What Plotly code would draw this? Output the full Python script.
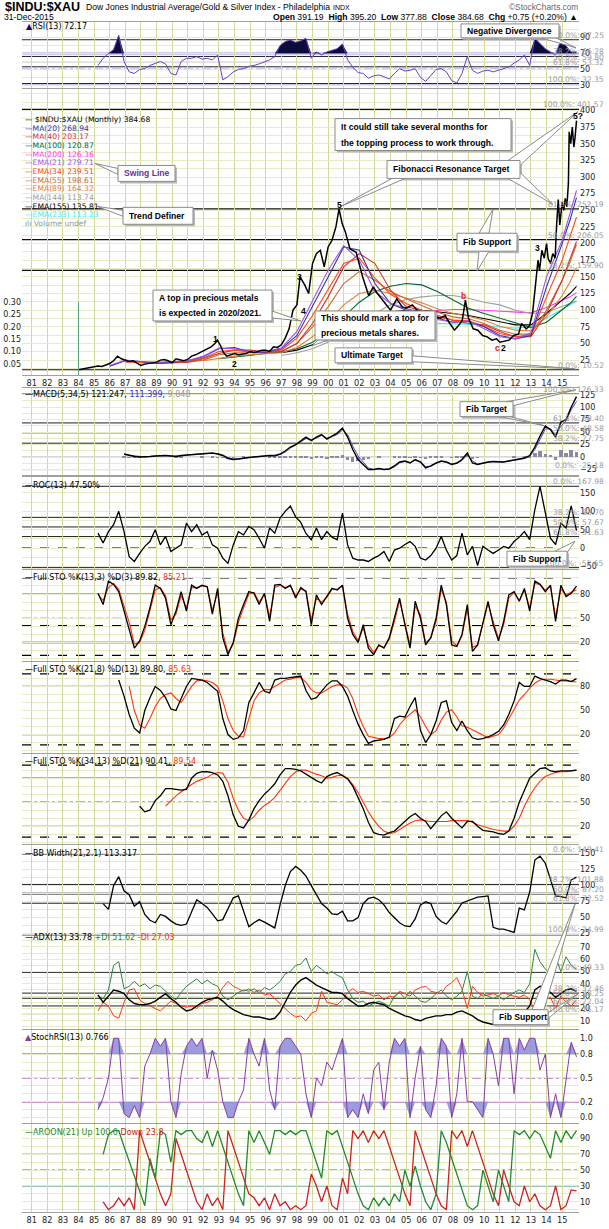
import plotly.graph_objects as go

W, H = 609, 1229
ML, MR = 22, 30
PW = W - ML - MR
X_RANGE = [1980.38, 2016.08]

tick_years = list(range(1981, 2016))
tick_text = ["%02d" % (y % 100) for y in tick_years]

# ---------------- main price (Dow / XAU ratio) ----------------
price_t = [1984.0, 1984.25, 1984.5, 1984.75, 1985.0, 1985.25, 1985.5, 1985.75, 1986.0, 1986.25, 1986.5, 1986.75,
           1987.0, 1987.25, 1987.5, 1987.75, 1988.0, 1988.25, 1988.5, 1988.75, 1989.0, 1989.25, 1989.5, 1989.75,
           1990.0, 1990.25, 1990.5, 1990.75, 1991.0, 1991.25, 1991.5, 1991.75, 1992.0, 1992.25, 1992.5, 1992.75,
           1992.9, 1993.1, 1993.3, 1993.5, 1993.75, 1994.0, 1994.25, 1994.5, 1994.75, 1995.0, 1995.25, 1995.5,
           1995.75, 1996.0, 1996.25, 1996.5, 1996.75, 1997.0, 1997.25, 1997.5, 1997.75, 1998.0, 1998.2, 1998.5,
           1998.75, 1999.0, 1999.25, 1999.5, 1999.75, 2000.0, 2000.25, 2000.5, 2000.7, 2000.9, 2001.1, 2001.4,
           2001.8, 2002.2, 2002.6, 2002.9, 2003.1, 2003.4, 2003.75, 2004.0, 2004.4, 2004.75, 2005.0, 2005.4,
           2005.7, 2006.0, 2006.3, 2006.6, 2006.9, 2007.2, 2007.5, 2007.8, 2008.1, 2008.4, 2008.6, 2008.8,
           2009.0, 2009.3, 2009.6, 2009.9, 2010.2, 2010.5, 2010.8, 2011.0, 2011.3, 2011.6, 2011.9, 2012.2,
           2012.4, 2012.7, 2012.9, 2013.1, 2013.3, 2013.45, 2013.55, 2013.7, 2013.85, 2014.0, 2014.1, 2014.25,
           2014.4, 2014.55, 2014.65, 2014.75, 2014.85, 2015.0, 2015.1, 2015.2, 2015.3, 2015.4, 2015.45, 2015.55,
           2015.65, 2015.75, 2015.83, 2015.92]
price_v = [10.5, 11.5, 12.5, 13, 14, 16, 15.5, 18, 20, 24, 31, 27,
           25, 23, 24, 20, 17, 19, 20, 21, 22, 25, 26, 24,
           21, 27, 25, 24, 26, 31, 33, 36, 38, 42, 45, 50,
           55, 47, 36, 31, 33, 35, 33, 34, 35, 38, 36, 38,
           40, 40, 38, 45, 44, 48, 58, 72, 100, 108, 150, 138,
           125, 170, 185, 190, 165, 195, 205, 225, 252, 230, 218, 192,
           187, 151, 122, 135, 127, 118, 108, 100, 117, 105, 103, 108,
           100, 85, 75, 82, 90, 88, 92, 80, 70, 78, 85, 115,
           88, 72, 70, 62, 60, 55, 57, 52, 54, 55, 62, 64,
           80, 72, 76, 95, 140, 175, 160, 190, 178, 200, 178, 170,
           185, 178, 230, 266, 228, 262, 250, 268, 255, 290, 368, 350,
           375, 345, 360, 384.68]

vol_t = [1984.0]
vol_v = [0.30]

# ---------------- moving averages (yearly reads) ----------------
ma_t = [1985, 1986, 1987, 1988, 1989, 1990, 1991, 1992, 1993, 1994, 1995, 1996, 1997, 1998, 1999, 2000,
        2001, 2002, 2003, 2004, 2005, 2006, 2007, 2008, 2009, 2010, 2011, 2012, 2013, 2014, 2015, 2015.5, 2015.92]
ma20 = [None, 16, 24, 23, 20, 22, 24, 30, 42, 44, 37, 37, 42, 62, 105, 150,
        195, 190, 140, 110, 100, 97, 88, 82, 83, 75, 62, 57, 62, 135, 200, 235, 268.94]
ema21 = [None, 17, 25, 23, 21, 23, 24, 31, 43, 42, 37, 38, 43, 68, 115, 160,
         197, 175, 128, 110, 103, 95, 86, 82, 84, 72, 60, 57, 66, 150, 205, 245, 279.71]
ema34 = [None, None, 22, 22, 21, 22, 23, 28, 38, 40, 37, 37, 40, 58, 92, 130,
         170, 178, 148, 124, 110, 100, 90, 85, 84, 76, 65, 60, 63, 120, 175, 210, 239.51]
ma40 = [None, None, None, 21, 20, 21, 22, 27, 35, 40, 40, 37, 38, 50, 80, 120,
        165, 185, 170, 130, 105, 100, 93, 85, 80, 78, 68, 60, 60, 95, 145, 175, 203.17]
ema55 = [None, None, None, None, 20, 21, 22, 25, 33, 36, 36, 36, 38, 50, 75, 105,
         140, 158, 145, 128, 117, 107, 97, 90, 87, 80, 70, 64, 64, 100, 145, 172, 198.61]
ema89 = [None, None, None, None, None, None, None, 24, 28, 31, 33, 34, 36, 44, 60, 82,
         108, 125, 130, 125, 118, 111, 102, 95, 91, 85, 76, 70, 69, 90, 122, 142, 164.32]
ma100 = [None, None, None, None, None, None, None, None, 27, 30, 33, 35, 37, 42, 52, 68,
         90, 112, 128, 136, 140, 138, 128, 115, 103, 95, 88, 80, 74, 82, 100, 110, 120.87]
ma144 = [None] * 12 + [32, 36, 42, 52, 65, 80, 95, 108, 116, 120, 122, 122, 118, 112, 108, 100, 95, 97, 105, 110, 113.74]
ema155 = [None] * 12 + [36, 40, 48, 60, 75, 88, 95, 98, 100, 100, 98, 95, 92, 87, 82, 78, 78, 95, 115, 125, 135.81]
ma200 = [None] * 16 + [60, 70, 80, 88, 94, 98, 100, 101, 101, 100, 99, 97, 96, 104, 115, 120, 126.36]
ema233 = [None] * 19 + [74, 77, 79, 80, 80, 79, 77, 75, 73, 75, 88, 102, 108, 113.23]

# ---------------- indicators: 3 reads per year (Apr, Aug, Dec) 1985-2015 ----------------
g3_t = [y + f for y in range(1985, 2016) for f in (0.25, 0.58, 0.92)]

rsi = [55, 64, 70, 75, 93, 60, 47, 45, 50, 51, 55, 58, 60, 57, 45, 43, 60, 64, 64, 66, 63, 64, 62, 68,
       37, 41, 47, 50, 51, 54, 55, 57, 60, 62, 66, 80, 85, 87, 84, 86, 89, 64, 72, 68, 72, 74, 76, 82,
       62, 53, 46, 45, 39, 42, 43, 41, 38, 45, 51, 48, 49, 51, 40, 35, 43, 50, 51, 47, 36, 33, 45, 66,
       49, 45, 48, 49, 47, 49, 51, 53, 58, 62, 68, 55, 89, 82, 76, 72, 68, 87, 80, 72, 72.17]

macd = [None, None, None, None, None, 6, 3, 1, 0, 0, 1, 2, 3, 3, 2, 1, 3, 4, 5, 6, 7, 7, 8, 6,
        3, -3, -5, -4, -2, -1, 0, 1, 2, 3, 2, 6, 12, 20, 25, 32, 40, 33, 40, 45, 36, 42, 48, 58,
        40, 15, -5, -15, -25, -25, -23, -25, -24, -18, -10, -8, -12, -5, -10, -22, -18, -12, -8, -10, -15, -12, -5, 8,
        -12, -15, -12, -10, -9, -10, -10, -8, -6, -5, -2, 3, 20, 42, 62, 55, 40, 70, 75, 100, 121.25]
macd_sig = [None, None, None, None, None, 5, 4, 2, 1, 0, 1, 2, 3, 3, 2, 2, 2, 4, 5, 6, 6, 7, 7, 7,
            4, -1, -4, -4, -3, -1, 0, 1, 2, 2, 3, 5, 10, 18, 24, 30, 37, 35, 38, 43, 38, 41, 45, 54,
            45, 22, 2, -10, -22, -25, -24, -25, -24, -20, -12, -9, -11, -7, -9, -19, -19, -13, -9, -10, -14, -13, -7, 4,
            -8, -14, -12, -10, -9, -10, -10, -8, -7, -5, -3, 1, 15, 36, 56, 57, 45, 62, 72, 95, 111.4]
macd_hist = [None, None, None, None, None, 1, -1, -1, -1, 0, 0, 0, 0, 0, 0, -1, 1, 0, 0, 0, 1, 0, 1, -1,
             -1, -2, -1, 0, 1, 0, 0, 0, 0, 1, -1, 1, 2, 2, 1, 2, 3, -2, 2, 2, -2, 1, 3, 4,
             -6, -9, -8, -5, -3, 0, 1, 0, 0, 2, 2, 1, -1, 2, -1, -3, 1, 1, 1, 0, -1, 1, 2, 5,
             -4, -1, 0, 0, 0, 0, 0, 0, 1, 0, 1, 3, 9, 13, 7, 5, -6, 15, 9, 14, 9.85]

roc = [41, 14, 45, 64, 100, 45, -23, -36, -14, 5, 18, 50, 9, 32, -9, 0, 9, 68, 45, 64, 36, 45, 9, 0,
       -27, -41, 9, 45, 36, 59, 50, 27, 0, 55, 41, 82, 100, 114, 85, 70, 40, 23, 55, 23, 45, 30, 23, 95,
       9, -27, -32, -32, -36, -27, -20, -9, -36, -5, 0, 10, 18, 5, -27, -32, -20, 0, 32, -5, -32, -20, 41, -18,
       5, -47, 5, -5, -14, -5, 5, 0, 18, 30, 45, 23, 105, 168, 100, 27, 10, 68, 55, 115, 47.5]

sto1_k = [81, 67, 96, 92, 83, 59, 38, 13, 22, 40, 63, 91, 87, 75, 42, 59, 83, 59, 91, 87, 91, 89, 55, 87,
          26, 5, 20, 50, 67, 83, 81, 67, 81, 46, 91, 92, 87, 91, 75, 88, 83, 42, 79, 67, 77, 87, 85, 91,
          50, 30, 20, 42, 13, 5, 17, 13, 26, 50, 75, 42, 13, 71, 50, 17, 26, 50, 91, 67, 17, 15, 30, 67,
          9, 17, 46, 71, 42, 22, 46, 79, 83, 71, 87, 59, 96, 92, 83, 91, 46, 91, 77, 81, 89.82]
sto1_d = [80, 72, 88, 93, 86, 65, 45, 18, 20, 35, 58, 85, 88, 78, 48, 55, 78, 63, 88, 88, 90, 89, 60, 82,
          32, 8, 18, 45, 63, 80, 82, 70, 80, 52, 88, 91, 88, 90, 78, 86, 84, 48, 75, 70, 76, 86, 86, 90,
          55, 34, 22, 38, 17, 8, 16, 14, 24, 46, 72, 46, 17, 65, 54, 20, 25, 46, 86, 70, 22, 16, 28, 62,
          14, 17, 42, 68, 46, 25, 42, 75, 82, 72, 85, 63, 93, 92, 85, 90, 52, 86, 79, 82, 85.21]

sto2_k = [None, None, None, None, 88, 68, 45, 28, 22, 50, 66, 80, 75, 66, 52, 50, 65, 80, 90, 89, 88, 85, 80, 74,
          40, 20, 14, 16, 25, 60, 72, 85, 74, 72, 88, 90, 90, 91, 92, 93, 75, 64, 66, 74, 82, 87, 87, 80,
          68, 50, 33, 20, 9, 12, 13, 14, 17, 40, 43, 42, 55, 66, 25, 10, 20, 37, 60, 62, 35, 25, 37, 25,
          16, 14, 15, 17, 20, 24, 32, 45, 62, 85, 80, 80, 93, 90, 88, 86, 83, 88, 88, 86, 89.80]
sto2_d = [None, None, None, None, None, None, 80, 50, 32, 28, 40, 55, 65, 70, 72, 65, 60, 70, 80, 87, 88, 87, 85, 80,
          62, 40, 25, 18, 17, 40, 62, 72, 76, 76, 80, 85, 88, 89, 91, 91, 85, 76, 72, 72, 76, 80, 82, 82,
          78, 65, 45, 30, 18, 16, 15, 15, 16, 22, 32, 40, 46, 51, 42, 30, 20, 25, 38, 48, 51, 42, 31, 29,
          26, 23, 19, 16, 18, 20, 28, 40, 52, 63, 70, 78, 84, 88, 89, 89, 88, 87, 87, 86, 85.63]

sto3_k = [None, None, None, None, None, None, None, None, 45, 38, 40, 52, 58, 67, 67, 66, 65, 66, 80, 86, 88, 88, 87, 84,
          76, 58, 34, 20, 18, 28, 42, 52, 60, 66, 73, 84, 92, 92, 91, 89, 85, 81, 77, 74, 82, 85, 87, 83,
          79, 70, 55, 42, 25, 12, 10, 9, 12, 14, 20, 26, 32, 36, 30, 26, 17, 25, 33, 38, 30, 24, 18, 26,
          26, 20, 15, 14, 13, 11, 10, 14, 30, 50, 66, 80, 86, 92, 93, 89, 88, 89, 89, 89, 90.41]
sto3_d = [None] * 13 + [45, 52, 58, 63, 68, 72, 76, 79, 81, 85, 87,
          86, 75, 55, 40, 30, 27, 32, 40, 46, 50, 56, 65, 74, 82, 88, 90, 90, 87, 85, 83, 80, 81, 83, 84,
          80, 72, 62, 50, 38, 28, 20, 14, 11, 12, 16, 20, 24, 27, 28, 27, 26, 26, 26, 26, 27, 27, 27, 27,
          25, 22, 20, 18, 16, 15, 14, 14, 20, 30, 45, 58, 68, 76, 82, 85, 87, 88, 88, 89, 89.54]

bbw = [None, 72, 63, 100, 114, 92, 86, 68, 75, 55, 46, 42, 55, 52, 45, 40, 38, 40, 58, 78, 72, 66, 56, 45,
       47, 65, 81, 84, 60, 36, 42, 47, 43, 38, 34, 70, 100, 122, 130, 124, 115, 100, 85, 72, 65, 56, 55, 60,
       45, 45, 50, 72, 80, 82, 78, 70, 58, 50, 42, 37, 36, 48, 70, 75, 72, 52, 44, 40, 50, 60, 73, 76,
       78, 82, 83, 84, 35, 32, 32, 29, 27, 65, 62, 90, 140, 146, 135, 110, 84, 83, 81, 109, 113.32]

adx = [31, 25, 30, 35, 34, 32, 27, 24, 23, 23, 24, 26, 29, 32, 28, 25, 21, 18, 19, 22, 25, 27, 28, 29,
       26, 22, 19, 17, 15, 14, 13, 13, 12, 11, 12, 17, 25, 33, 39, 43, 45, 42, 39, 37, 35, 33, 33, 32,
       28, 25, 22, 22, 24, 25, 24, 23, 20, 18, 16, 14, 13, 11, 10, 12, 13, 14, 14, 15, 15, 17, 18, 16,
       14, 11, 9, 8, 7, 7, 7, 7, 8, 13, 17, 22, 35, 38, 37, 33, 29, 32, 35, 36, 33.78]
plus_di = [30, 28, 35, 55, 58, 36, 38, 42, 38, 40, 36, 39, 38, 34, 30, 27, 33, 38, 41, 44, 40, 43, 40, 38,
           30, 27, 30, 33, 35, 34, 36, 33, 37, 35, 38, 42, 48, 50, 55, 56, 61, 50, 55, 52, 48, 50, 47, 45,
           35, 28, 25, 26, 22, 24, 26, 24, 22, 30, 33, 28, 34, 30, 26, 25, 28, 32, 35, 30, 27, 30, 34, 50,
           30, 28, 32, 30, 28, 30, 27, 30, 33, 35, 33, 40, 68, 58, 52, 48, 62, 50, 62, 55, 51.62]
minus_di = [18, 25, 22, 14, 12, 25, 35, 36, 27, 24, 22, 20, 18, 22, 26, 24, 22, 21, 22, 20, 24, 25, 27, 30,
            37, 42, 38, 36, 34, 36, 33, 35, 31, 32, 28, 24, 20, 16, 13, 14, 10, 16, 18, 34, 25, 24, 23, 27,
            33, 36, 33, 34, 32, 30, 31, 27, 30, 29, 34, 32, 30, 35, 37, 38, 34, 33, 32, 38, 41, 45, 36, 20,
            38, 33, 30, 31, 32, 30, 33, 31, 30, 29, 31, 27, 18, 24, 27, 29, 20, 30, 25, 22, 27.03]

stoch_rsi = [0.10, 0.25, 0.5, 1.0, 1.0, 0.05, 0.0, 0.15, 0.0, 0.65, 0.8, 1.0, 0.9, 1.0, 0.2, 0.0, 0.55, 0.9,
             1.0, 0.9, 1.0, 0.5, 0.85, 0.6, 0.2, 0.0, 0.0, 0.2, 0.35, 1.0, 0.8, 0.65, 1.0, 0.35, 0.1, 0.9,
             1.0, 1.0, 0.9, 0.8, 0.3, 0.0, 0.5, 0.4, 0.7, 0.6, 0.8, 1.0, 0.0, 0.1, 0.0, 0.3, 0.05, 0.6,
             0.7, 0.1, 0.7, 1.0, 0.9, 1.0, 0.0, 0.5, 0.9, 0.1, 0.0, 0.4, 1.0, 0.9, 0.0, 0.3, 1.0, 0.2,
             0.2, 0.1, 0.0, 1.0, 0.8, 0.4, 1.0, 1.0, 0.3, 1.0, 0.85, 1.0, 1.0, 0.6, 0.8, 0.0, 0.3, 0.0,
             0.5, 0.95, 0.766]

aroon_up = [None, 70, 95, 100, 100, 80, 62, 43, 24, 5, 65, 40, 100, 95, 60, 100, 95, 100, 100, 90, 85, 100, 80, 100,
            80, 60, 40, 20, 5, 100, 85, 100, 85, 70, 100, 100, 95, 100, 95, 100, 100, 80, 60, 40, 100, 95, 100, 80,
            60, 40, 20, 5, 0, 15, 5, 15, 5, 20, 10, 50, 30, 55, 30, 10, 0, 20, 100, 85, 65, 45, 25, 5,
            0, 5, 50, 30, 10, 50, 30, 10, 100, 95, 100, 90, 100, 95, 80, 65, 100, 85, 100, 90, 100.0]
aroon_dn = [None, 10, 0, 5, 15, 5, 15, 0, 100, 80, 60, 40, 20, 5, 20, 90, 70, 50, 30, 10, 0, 20, 5, 15,
            0, 100, 80, 60, 40, 20, 15, 5, 15, 0, 20, 5, 10, 0, 5, 0, 5, 45, 30, 10, 30, 5, 0, 40,
            20, 100, 90, 100, 85, 100, 90, 100, 80, 60, 40, 20, 5, 100, 80, 60, 40, 20, 5, 0, 100, 90, 100, 80,
            100, 80, 60, 40, 20, 5, 50, 30, 10, 5, 30, 10, 20, 5, 0, 5, 30, 0, 5, 25, 23.8]

# ---------------- reference levels ----------------
rsi_fib = [87.25, 66.28, 59.80, 53.32, 32.35]
rsi_fib_txt = ["0.0%: 87.25", "38.2%: 66.28", "50.0%: 59.80", "61.8%: 53.32", "100.0%: 32.35"]
price_fib = [401.57, 252.19, 206.05, 159.90, 10.52]
price_fib_txt = ["100.0%: 401.57", "61.8%: 252.19", "50.0%: 206.05", "38.2%: 159.90", "0.0%: 10.52"]
macd_fib = [126.33, 68.40, 48.58, 27.75, -25.18]
macd_fib_txt = ["100.0%: 126.33", "61.8%: 68.40", "50.0%: 48.58", "38.2%: 27.75", "0.0%: -25.18"]
roc_fib = [167.98, 83.70, 57.67, 31.63, -52.65]
roc_fib_txt = ["0.0%: 167.98", "38.2%: 83.70", "50.0%: 57.67", "61.8%: 31.63", "100.0%: -52.65"]
bb_fib = [149.41, 101.88, 87.20, 72.52, 24.99]
bb_fib_txt = ["0.0%: 149.41", "38.2%: 101.88", "50.0%: 87.20", "61.8%: 72.52", "100.0%: 24.99"]
adx_fib = [49.33, 32.46, 28.25, 22.04, 15.17]
adx_fib_txt = ["0.0%: 49.33", "38.2%: 32.46", "50.0%: 28.25", "61.8%: 22.04", "100.0%: 15.17"]

# ---------------- layout helpers ----------------
def PX(x):
    return (x - ML) / PW


def PY(y):
    return 1 - y / H


# panel: (top px, bottom px, value range, right tick values, tick texts, minor grid step)
panels = {
    1: (22, 88, [27.1, 109.6], [30, 50, 70, 90], None, 10),
    2: (89, 376, [3, 432.6], list(range(25, 401, 25)), None, 12.5),
    3: (389, 477, [-37, 139], [-25, 0, 25, 50, 75, 100, 125], None, 12.5),
    4: (479, 571, [-56.8, 192], [-50, 0, 50, 100, 150], None, 25),
    5: (572, 663, [-2.7, 109.6], [20, 50, 80], None, 10),
    6: (664, 755, [-2.4, 110.7], [20, 50, 80], None, 10),
    7: (756, 847, [-2.4, 110.7], [20, 50, 80], None, 10),
    8: (848, 938, [23.0, 163.1], [25, 50, 75, 100, 125, 150], None, 12.5),
    9: (939, 1032, [3.6, 78.9], [10, 20, 30, 40, 50, 60, 70], None, 5),
    10: (1033, 1127, [-0.072, 1.109], [0, 0.2, 0.5, 0.8, 1.0], ["0.0", "0.2", "0.5", "0.8", "1.0"], 0.1),
    11: (1128, 1216, [-3, 108], [10, 30, 50, 70, 90], None, 10),
}

VGRID = '#d4da9c'
HGRID = '#e8ecc6'
FONT = 'DejaVu Sans'

fig = go.Figure()
layout = dict(width=W, height=H, margin=dict(l=ML, r=MR, t=0, b=0), paper_bgcolor='white',
              plot_bgcolor='white', showlegend=False, bargap=0)

for i, (top, bot, rng, tv, tt, mstep) in panels.items():
    sfx = '' if i == 1 else str(i)
    layout['xaxis' + sfx] = dict(domain=[0, 1], range=X_RANGE, anchor='y' + sfx, tickvals=tick_years,
                                 ticktext=tick_text, showticklabels=(i in (2, 11)), showgrid=True,
                                 gridcolor=VGRID, gridwidth=1, zeroline=False, showline=True, mirror=True,
                                 linecolor='#a0a0a0', linewidth=1, ticks='',
                                 tickfont=dict(family=FONT, size=8.2, color='#222'))
    layout['yaxis' + sfx] = dict(domain=[PY(bot), PY(top)], range=rng, anchor='x' + sfx, side='right',
                                 tickvals=tv, ticktext=tt, showgrid=True, gridcolor=HGRID, zeroline=False,
                                 showline=False, ticks='', tickfont=dict(family=FONT, size=8, color='#222'),
                                 minor=dict(tickmode='linear', tick0=0, dtick=mstep, showgrid=True,
                                            gridcolor=HGRID, ticks=''))
# volume axis (left side of price panel)
layout['yaxis12'] = dict(overlaying='y2', anchor='x2', side='left', range=[0.0056, 1.163],
                         tickvals=[0.05, 0.10, 0.15, 0.20, 0.25, 0.30],
                         ticktext=['0.05', '0.10', '0.15', '0.20', '0.25', '0.30'], showgrid=False,
                         zeroline=False, ticks='', tickfont=dict(family=FONT, size=8, color='#222'))


def line(xs, ys, n, color, width=1.0, dash='solid', yax=None):
    sfx = '' if n == 1 else str(n)
    fig.add_trace(go.Scatter(x=xs, y=ys, mode='lines', line=dict(color=color, width=width, dash=dash),
                             xaxis='x' + sfx, yaxis=yax if yax else 'y' + sfx, connectgaps=False,
                             hoverinfo='skip'))


def band_fill(xs, ys, n, level, color, above=True):
    sfx = '' if n == 1 else str(n)
    base = [level if v is not None else None for v in ys]
    if above:
        clip = [max(v, level) if v is not None else None for v in ys]
    else:
        clip = [min(v, level) if v is not None else None for v in ys]
    fig.add_trace(go.Scatter(x=xs, y=base, mode='lines', line=dict(width=0), xaxis='x' + sfx,
                             yaxis='y' + sfx, hoverinfo='skip'))
    fig.add_trace(go.Scatter(x=xs, y=clip, mode='lines', line=dict(width=0), fill='tonexty',
                             fillcolor=color, xaxis='x' + sfx, yaxis='y' + sfx, hoverinfo='skip'))


shapes = []
annotations = []


def hline(n, val, color='#000', width=1.0, dash='solid'):
    sfx = '' if n == 1 else str(n)
    shapes.append(dict(type='line', xref='x' + sfx + ' domain', x0=0, x1=1, yref='y' + sfx, y0=val, y1=val,
                       line=dict(color=color, width=width, dash=dash), layer='below'))


def fib_labels(n, vals, txts):
    sfx = '' if n == 1 else str(n)
    for v, t in zip(vals, txts):
        annotations.append(dict(xref='paper', x=PX(606), yref='y' + sfx, y=v, text=t, showarrow=False,
                                xanchor='right', yanchor='bottom', yshift=-2,
                                font=dict(family=FONT, size=7.6, color='#9a9a9a')))


def txt(px, py, s, size=8, color='#000', family=FONT, anchor='left'):
    annotations.append(dict(xref='paper', yref='paper', x=PX(px), y=PY(py), text=s, showarrow=False,
                            xanchor=anchor, yanchor='middle', font=dict(size=size, color=color, family=family)))


# ---------------- RSI panel ----------------
band_fill(g3_t, rsi, 1, 70, 'rgba(0,0,50,0.95)', True)
for v in rsi_fib:
    hline(1, v, '#222', 1)
hline(1, 70, '#3333cc', 1.3)
hline(1, 30, '#3333cc', 1.3)
hline(1, 50, '#3333cc', 1.2, 'dashdot')
line(g3_t, rsi, 1, '#6a3fc8', 1)
fib_labels(1, rsi_fib, rsi_fib_txt)

# ---------------- price panel ----------------
fig.add_trace(go.Bar(x=vol_t, y=vol_v, width=0.06, marker=dict(color='#5a9e7a', line=dict(width=0)),
                     xaxis='x2', yaxis='y12', hoverinfo='skip'))
for v in price_fib:
    hline(2, v, '#111', 1.2)
ma_specs = [(ema233, '#33eeff'), (ma200, '#ff33ff'), (ma144, '#a0a0a0'), (ema155, '#000000'),
            (ma100, '#006633'), (ema89, '#dd8040'), (ema55, '#c86a35'), (ma40, '#cc3333'),
            (ema34, '#ff4422'), (ma20, '#333399'), (ema21, '#9955ee')]
for vals, col in ma_specs:
    line(ma_t, vals, 2, col, 1.1)
line(price_t, price_v, 2, '#000000', 1.5)
fib_labels(2, price_fib, price_fib_txt)

# ---------------- MACD ----------------
fig.add_trace(go.Bar(x=g3_t, y=macd_hist, width=0.22, marker=dict(color='#8a8aa0', line=dict(width=0)),
                     xaxis='x3', yaxis='y3', hoverinfo='skip'))
for v in macd_fib:
    hline(3, v, '#222', 1)
hline(3, 0, '#999', 0.8)
line(g3_t, macd_sig, 3, '#6a3fc8', 1)
line(g3_t, macd, 3, '#000', 1.4)
fib_labels(3, macd_fib, macd_fib_txt)

# ---------------- ROC ----------------
for v in roc_fib:
    hline(4, v, '#222', 1)
hline(4, 0, '#000', 1.2, 'dash')
line(g3_t, roc, 4, '#000', 1.3)
fib_labels(4, roc_fib, roc_fib_txt)

# ---------------- Full STO panels ----------------
sto_dash = {5: [100, 41, 4], 6: [95.8, 7.2], 7: [96.2, 6.4]}
for n, k, d in [(5, sto1_k, sto1_d), (6, sto2_k, sto2_d), (7, sto3_k, sto3_d)]:
    hline(n, 80, '#3a8a5a', 1.2)
    hline(n, 50, '#3a8a5a', 1.2, 'dashdot')
    hline(n, 20, '#6fb08a' if n == 5 else '#3a8a5a', 2.2 if n == 5 else 1.2)
    for v in sto_dash[n]:
        hline(n, v, '#000', 1.3, 'dash')
    line(g3_t, d, n, '#ff3311', 1.1)
    line(g3_t, k, n, '#000', 1.3)

# ---------------- BB width ----------------
for v in bb_fib:
    hline(8, v, '#888' if v == 87.20 else '#222', 2.5 if v == 87.20 else 1)
line(g3_t, bbw, 8, '#000', 1.3)
fib_labels(8, bb_fib, bb_fib_txt)

# ---------------- ADX ----------------
for v in adx_fib:
    hline(9, v, '#222', 1)
line(g3_t, minus_di, 9, '#ff3311', 1)
line(g3_t, plus_di, 9, '#2e8540', 1)
line(g3_t, adx, 9, '#000', 1.4)
fib_labels(9, adx_fib, adx_fib_txt)

# ---------------- StochRSI ----------------
band_fill(g3_t, stoch_rsi, 10, 0.8, 'rgba(140,140,215,0.85)', True)
band_fill(g3_t, stoch_rsi, 10, 0.2, 'rgba(140,140,215,0.85)', False)
hline(10, 0.8, '#993399', 1.4)
hline(10, 0.2, '#993399', 1.4)
hline(10, 0.5, '#993399', 1.2, 'dashdot')
line(g3_t, stoch_rsi, 10, '#8a3aa8', 1)

# ---------------- AROON ----------------
hline(11, 70, '#3a8a5a', 1.2)
hline(11, 30, '#3a8a5a', 1.2)
hline(11, 50, '#3a8a5a', 1.2, 'dashdot')
line(g3_t, aroon_dn, 11, '#cc2222', 1.3)
line(g3_t, aroon_up, 11, '#228833', 1.3)

# ---------------- header ----------------
txt(3, 7, '<b>$INDU:$XAU</b>', 12.5, '#000', 'Liberation Sans')
txt(84, 7.5, 'Dow Jones Industrial Average/Gold &amp; Silver Index - Philadelphia', 8.6, '#000', 'Liberation Sans')
txt(331, 8, 'INDX', 7, '#000', 'Liberation Sans')
txt(580, 7, '©StockCharts.com', 8.3, '#666', 'Liberation Sans', 'right')
txt(2, 17.5, '31-Dec-2015', 8.6, '#000', 'Liberation Sans')
txt(580, 17.5, '<b>Open</b> 391.19  <b>High</b> 395.20  <b>Low</b> 377.88  <b>Close</b> 384.68  '
    '<b>Chg</b> +0.75 (+0.20%) ▲', 8.6, '#000', 'Liberation Sans', 'right')

# ---------------- panel legends ----------------
txt(24, 27, '<span style="color:#220066">▲</span>RSI(13) 72.17', 8, '#000')
main_leg = [('— $INDU:$XAU (Monthly) 384.68', '#000'), ('—MA(20) 268.94', '#333399'),
            ('—MA(40) 203.17', '#cc3333'), ('—MA(100) 120.87', '#006633'), ('—MA(200) 126.36', '#ff33ff'),
            ('—EMA(21) 279.71', '#9955ee'), ('—EMA(34) 239.51', '#ff4422'), ('—EMA(55) 198.61', '#c86a35'),
            ('—EMA(89) 164.32', '#dd8040'), ('—MA(144) 113.74', '#999999'), ('—EMA(155) 135.81', '#000'),
            ('—EMA(233) 113.23', '#33eeff'), ('ılı Volume undef', '#8899aa')]
for j, (s, c) in enumerate(main_leg):
    txt(23, 120 + j * 8.7, s, 7.6, c)
txt(23, 396, '—MACD(5,34,5) 121.247, <span style="color:#3333cc">111.399</span>, '
    '<span style="color:#999">9.848</span>', 8)
txt(23, 487, '—ROC(13) 47.50%', 8)
txt(23, 579, '—Full STO %K(13,3) %D(3) 89.82, <span style="color:#ff3311">85.21</span>', 8)
txt(23, 671.5, '—Full STO %K(21,8) %D(13) 89.80, <span style="color:#ff3311">85.63</span>', 8)
txt(23, 763.5, '—Full STO %K(34,13) %D(21) 90.41, <span style="color:#ff3311">89.54</span>', 8)
txt(23, 856.5, '—BB Width(21,2.1) 113.317', 8)
txt(23, 941, '—ADX(13) 33.78 <span style="color:#2e8540">+DI 51.62</span> '
    '<span style="color:#ff3311">-DI 27.03</span>', 8)
txt(23, 1041, '<span style="color:#8a3aa8">▲</span>StochRSI(13) 0.766', 8)
txt(23, 1136, '<span style="color:#228833">—AROON(21) Up 100.0</span> '
    '<span style="color:#cc2222">Down 23.8</span>', 8)

# ---------------- wave labels ----------------
for (px_, py_, s, c) in [(215, 340, '1', '#000'), (234, 365, '2', '#000'), (299, 278, '3', '#000'),
                         (304, 312, '4', '#000'), (339, 206, '5', '#000'), (463, 297, 'b', '#dd2200'),
                         (497, 349, 'c', '#dd2200'), (503, 349, '2', '#000'), (537, 249, '3', '#000'),
                         (578, 116, '5?', '#000')]:
    txt(px_, py_, '<b>%s</b>' % s, 8.5, c, 'Liberation Sans', 'center')

# ---------------- callouts ----------------
callouts = [
    ((461, 24, 559, 38), ['Negative Divergence'], [(541, 38, 556, 38, 576, 48)], '#000'),
    ((118, 166, 175, 182), ['Swing Line'], [(118, 169, 118, 175, 95, 164)], '#663399'),
    ((123, 208, 193, 225), ['Trend Definer'], [(123, 211, 123, 217, 97, 207)], '#000'),
    ((153, 291, 272, 322), ['A top in precious metals', 'is expected in 2020/2021.'],
     [(272, 312, 272, 319, 301, 322)], '#000'),
    ((335, 119, 511, 151), ['It could still take several months for', 'the topping process to work through.'],
     [], '#000'),
    ((387, 161, 520, 179), ['Fibonacci Resonance Target'],
     [(392, 179, 405, 179, 341, 207), (508, 161, 520, 166, 578, 112), (508, 179, 520, 173, 553, 205)], '#000'),
    ((457, 234, 517, 252), ['Fib Support'], [(479, 234, 489, 234, 493, 210), (479, 252, 489, 252, 477, 272)],
     '#000'),
    ((315, 312, 435, 341), ['This should mark a top for', 'precious metals shares.'],
     [(318, 341, 328, 341, 312, 347)], '#000'),
    ((335, 349, 412, 364), ['Ultimate Target'], [(412, 357, 412, 363, 575, 370)], '#000'),
    ((460, 403, 513, 418), ['Fib Target'], [(506, 403, 513, 407, 576, 391), (500, 418, 510, 418, 544, 427)],
     '#000'),
    ((507, 553, 567, 568), ['Fib Support'], [(555, 553, 566, 556, 575, 543)], '#000'),
    ((493, 1013, 548, 1028), ['Fib Support'], [(532, 1013, 544, 1013, 575, 907), (548, 1016, 548, 1022, 578, 997)],
     '#000'),
]


def ppath(points):
    return 'M ' + ' L '.join('%.5f,%.5f' % (PX(a), PY(b)) for a, b in points) + ' Z'


for (x0, y0, x1, y1), lines_, wedges, tcol in callouts:
    shapes.append(dict(type='rect', xref='paper', yref='paper', x0=PX(x0 + 2), x1=PX(x1 + 2), y0=PY(y1 + 2),
                       y1=PY(y0 + 2), fillcolor='#b8b8b8', line=dict(width=0), layer='above'))
    for (a, b, c, d, e, f) in wedges:
        shapes.append(dict(type='path', xref='paper', yref='paper', path=ppath([(a, b), (e, f), (c, d)]),
                           fillcolor='white', line=dict(color='#8a8a8a', width=1), layer='above'))
    shapes.append(dict(type='rect', xref='paper', yref='paper', x0=PX(x0), x1=PX(x1), y0=PY(y1), y1=PY(y0),
                       fillcolor='white', line=dict(color='#8a8a8a', width=1), layer='above'))
    n = len(lines_)
    lh = (y1 - y0) / n
    for j, s in enumerate(lines_):
        txt(x0 + 4, y0 + lh * (j + 0.5), '<b>%s</b>' % s, 8.6, tcol, 'Liberation Sans')

layout['shapes'] = shapes
layout['annotations'] = annotations
fig.update_layout(**layout)
fig.write_html('out.html', config={'displayModeBar': False},
               post_script="document.body.style.margin='0px';document.body.style.padding='0px';"
                           "document.body.style.overflow='hidden';")
